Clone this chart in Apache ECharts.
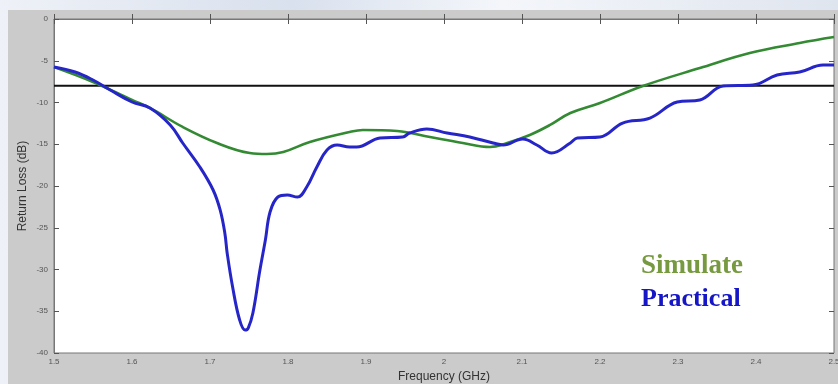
<!DOCTYPE html>
<html><head><meta charset="utf-8">
<script src="https://cdn.jsdelivr.net/npm/echarts@6/dist/echarts.min.js"></script>
<style>
html,body{margin:0;padding:0;width:838px;height:384px;overflow:hidden;
background:linear-gradient(90deg,#eef1f7 0%,#d9e1ee 35%,#f4f6fa 60%,#dfe5ef 100%);}
#c{position:absolute;left:8px;top:10px;width:830px;height:374px;}
</style></head><body>
<div id="c"></div>
<script>
const simFreq = [1.500,1.550,1.600,1.623,1.665,1.709,1.751,1.773,1.794,1.828,1.879,1.896,1.940,1.982,2.024,2.059,2.081,2.110,2.136,2.162,2.200,2.255,2.328,2.392,2.456,2.500];
const simDb   = [-5.75,-7.54,-9.70,-10.66,-12.93,-14.85,-16.05,-16.17,-15.93,-14.73,-13.53,-13.29,-13.41,-14.13,-14.85,-15.33,-14.85,-13.89,-12.69,-11.26,-10.06,-8.02,-5.87,-4.07,-2.87,-2.16];
const pracFreq = [1.500,1.527,1.550,1.572,1.600,1.623,1.649,1.665,1.687,1.704,1.713,1.719,1.722,1.729,1.738,1.745,1.749,1.755,1.764,1.771,1.777,1.787,1.799,1.812,1.824,1.837,1.850,1.863,1.879,1.888,1.918,1.947,1.956,1.978,2.004,2.033,2.063,2.076,2.101,2.119,2.138,2.162,2.171,2.200,2.229,2.264,2.299,2.328,2.358,2.396,2.427,2.456,2.486,2.500];
const pracDb   = [-5.75,-6.35,-7.31,-8.50,-9.94,-10.66,-12.69,-14.85,-17.72,-20.48,-22.87,-25.63,-28.02,-32.10,-36.05,-37.25,-37.01,-35.21,-30.06,-26.47,-23.11,-21.32,-21.08,-21.32,-20.12,-17.72,-15.69,-15.09,-15.33,-15.33,-14.25,-14.13,-13.65,-13.17,-13.65,-14.13,-14.85,-15.09,-14.37,-15.09,-16.05,-14.85,-14.25,-14.13,-12.46,-11.86,-9.94,-9.70,-8.02,-7.90,-6.71,-6.35,-5.51,-5.51];
const refFreq = [1.5, 2.5];
const refDb = [-8, -8];
const legendNames = ['Simulate', 'Practical'];

const zip = (a, b) => a.map((v, i) => [v, b[i]]);
const chart = echarts.init(document.getElementById('c'));
const tickStyle = {show: true, inside: true, length: 5, lineStyle: {color: '#555', width: 1}};
const labelStyle = {color: '#555', fontSize: 8, fontFamily: 'Liberation Sans, Arial, sans-serif'};
chart.setOption({
  backgroundColor: '#cbcbcb',
  animation: false,
  grid: {left: 46, top: 9, right: 4, bottom: 31, show: true, backgroundColor: '#ffffff', borderColor: '#777', borderWidth: 1, outerBoundsMode: 'none', containLabel: false},
  xAxis: [{
    type: 'value', min: 1.5, max: 2.5, interval: 0.1, position: 'bottom',
    axisLine: {show: true, lineStyle: {color: '#777'}}, axisTick: tickStyle,
    axisLabel: Object.assign({margin: 5}, labelStyle), splitLine: {show: false},
    name: 'Frequency (GHz)', nameLocation: 'middle', nameGap: 16,
    nameTextStyle: {color: '#333', fontSize: 12, fontFamily: 'Liberation Sans, Arial, sans-serif'}
  }, {
    type: 'value', min: 1.5, max: 2.5, interval: 0.1, position: 'top',
    axisLine: {show: false}, axisTick: tickStyle, axisLabel: {show: false}, splitLine: {show: false}
  }],
  yAxis: [{
    type: 'value', min: -40, max: 0, interval: 5, position: 'left',
    axisLine: {show: true, lineStyle: {color: '#777'}}, axisTick: tickStyle,
    axisLabel: Object.assign({margin: 6}, labelStyle), splitLine: {show: false},
    name: 'Return Loss (dB)', nameLocation: 'middle', nameGap: 25, nameMoveOverlap: false,
    nameTextStyle: {color: '#333', fontSize: 12, fontFamily: 'Liberation Sans, Arial, sans-serif'}
  }, {
    type: 'value', min: -40, max: 0, interval: 5, position: 'right',
    axisLine: {show: false}, axisTick: tickStyle, axisLabel: {show: false}, splitLine: {show: false}
  }],
  series: [
    {name: 'ref', type: 'line', data: zip(refFreq, refDb), symbol: 'none', lineStyle: {color: '#111', width: 2}},
    {name: legendNames[0], type: 'line', data: zip(simFreq, simDb), symbol: 'none', smooth: 0.4, lineStyle: {color: '#338a33', width: 2.6}},
    {name: legendNames[1], type: 'line', data: zip(pracFreq, pracDb), symbol: 'none', smooth: 0.4, lineStyle: {color: '#2626c8', width: 3}}
  ],
  graphic: [
    {type: 'text', x: 633, y: 256, style: {text: legendNames[0], fill: '#779a40', verticalAlign: 'middle', font: 'bold 27px "Liberation Serif", "Times New Roman", serif'}},
    {type: 'text', x: 633, y: 289, style: {text: legendNames[1], fill: '#1616c6', verticalAlign: 'middle', font: 'bold 26px "Liberation Serif", "Times New Roman", serif'}}
  ]
});
</script>
</body></html>
